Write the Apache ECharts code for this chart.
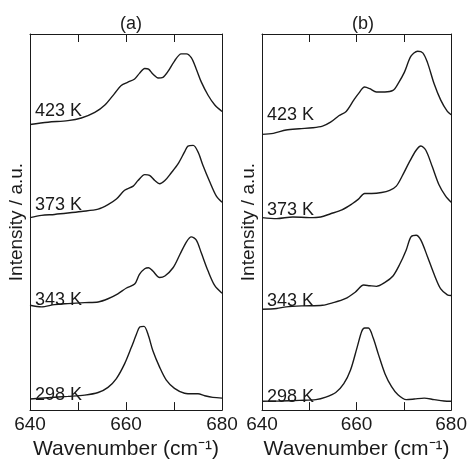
<!DOCTYPE html>
<html>
<head>
<meta charset="utf-8">
<script src="https://cdn.jsdelivr.net/npm/echarts@6/dist/echarts.min.js"></script>
<style>
  html, body { margin: 0; padding: 0; background: #fff; }
  #chart { width: 470px; height: 465px; }
</style>
</head>
<body>
<div id="chart"></div>
<script>
// spectra: [wavenumber, intensity (a.u., stacked offsets)]
const a298 = [[640, 11.3], [643.75, 12.7], [647.9, 14], [651.4, 15.3], [654.2, 18], [656.25, 23.3], [658, 32.3], [659.7, 47.3], [661.1, 64], [662.15, 77.3], [662.85, 85], [663.75, 85.7], [664.6, 77.3], [665.6, 60.7], [667, 44], [668.4, 30.7], [670.1, 22.3], [672.2, 17.3], [674, 16.7], [675, 16.7], [676.4, 14.7], [678.1, 13], [680, 12.3]];
const a343 = [[640, 107.3], [642.4, 105.7], [645.1, 108], [647.9, 109], [651.4, 110], [654.2, 110.7], [656.25, 114], [658.3, 119], [660.1, 125], [661.8, 129], [662.8, 139], [663.9, 144.7], [664.7, 145.7], [665.6, 142.3], [667, 135.7], [668.1, 137.3], [669.8, 145.7], [671.2, 159], [672.6, 172.3], [673.6, 177.3], [674.65, 174], [675.7, 160.7], [677.1, 142.3], [678.5, 127.3], [680, 119.7]];
const a373 = [[640, 197], [642.4, 199.3], [645.1, 200.3], [647.9, 201.7], [650.7, 203.3], [654.2, 205.7], [656.25, 210.3], [658, 216], [659.7, 225], [661.5, 229.3], [662.5, 235], [663.9, 241], [664.9, 240.3], [666, 235], [667, 231.7], [668.1, 235], [669.4, 242.7], [670.8, 251.7], [672.2, 264.3], [672.9, 270.3], [674, 271], [675, 264.3], [676, 251], [677.4, 234.3], [678.8, 219.3], [680, 212.7]];
const a423 = [[640, 292.3], [643.75, 294.7], [647.9, 296.3], [650.7, 299], [653.5, 304.7], [655.6, 312.3], [657.6, 324], [659, 332.3], [660.4, 335.7], [661.8, 339], [662.8, 344.7], [663.9, 349.7], [664.7, 349], [665.6, 344], [666.7, 340], [667.7, 340.7], [668.75, 346.7], [670.1, 357.3], [671.5, 364.7], [672.6, 364.7], [673.6, 360.7], [674.65, 349], [675.7, 335.7], [677.1, 322.3], [678.5, 312.3], [680, 305.7]];

const b298 = [[640, 9], [643.75, 9.3], [647.9, 10], [651.4, 10.7], [653.5, 13.3], [655.6, 18], [657.3, 27], [658.7, 40.7], [660.1, 64], [661.1, 80.7], [661.7, 84], [662.5, 84], [663.5, 74], [664.6, 57.3], [666, 37.3], [667.4, 24], [668.75, 15.7], [670.5, 10.7], [672.2, 11.3], [674.3, 12.3], [676.4, 10.7], [678.5, 9.3], [680, 9]];
const b343 = [[640, 103.3], [643.1, 104], [645.1, 105.7], [648.6, 106.7], [652.8, 107.3], [654.9, 109.7], [657.6, 114], [659.7, 120.7], [661.5, 128], [662.8, 127.3], [664.2, 126.7], [666, 130.7], [667.7, 137.3], [669.1, 149], [670.5, 164], [671.5, 177.3], [672.6, 179], [673.6, 174], [675, 157], [676.4, 139], [677.8, 124], [679.2, 118], [680, 117.3]];
const b373 = [[640, 197], [643.1, 196], [646.5, 197.7], [650, 197], [652.4, 197.7], [654.5, 201], [656.9, 205], [659, 211], [660.4, 216], [661.7, 221.7], [663.2, 221.7], [665.3, 222.7], [667, 225], [668.4, 229.3], [669.8, 241], [671.2, 254.3], [672.6, 266], [673.6, 270.3], [674.65, 266], [676, 249.3], [677.4, 231], [678.8, 219.3], [680, 212.7]];
const b423 = [[640, 282.3], [642.4, 283.3], [645.1, 286.7], [647.9, 288], [650.7, 289], [652.8, 290.7], [654.5, 294.7], [656.25, 301.3], [657.8, 305.7], [659.4, 317.3], [660.4, 324], [661.7, 330.7], [662.8, 329], [664.2, 325.7], [666, 325.7], [667.7, 327.3], [668.75, 334], [670.1, 345.7], [671.5, 362.3], [672.9, 367.3], [674, 365.7], [675, 355.7], [676.4, 334], [677.8, 317.3], [679.2, 305.7], [680, 302.3]];

const temperatures = ['298 K', '343 K', '373 K', '423 K'];
const xTickLabels = [640, 660, 680];
const panelTitles = ['(a)', '(b)'];

const FONT = 'Liberation Sans, Arial, sans-serif';
const INK = '#1a1a1a';

function xAxisPair(gridIndex) {
  const base = {
    gridIndex: gridIndex,
    type: 'value',
    min: 640,
    max: 680,
    interval: 10,
    splitLine: { show: false },
    axisLine: { onZero: false, lineStyle: { color: INK, width: 1 } },
    axisTick: { inside: true, length: 8, lineStyle: { color: INK } }
  };
  return [
    Object.assign({}, base, {
      position: 'bottom',
      name: 'Wavenumber (cm\u207B\u00B9)',
      nameLocation: 'middle',
      nameGap: 18,
      nameTextStyle: { fontFamily: FONT, fontSize: 21, color: INK, verticalAlign: 'top' },
      axisLabel: {
        margin: 5,
        fontFamily: FONT,
        fontSize: 19,
        color: INK,
        formatter: v => (xTickLabels.indexOf(v) >= 0 ? String(v) : '')
      }
    }),
    Object.assign({}, base, { position: 'top', axisLabel: { show: false } })
  ];
}

function yAxisPair(gridIndex) {
  const base = {
    gridIndex: gridIndex,
    type: 'value',
    min: 0,
    max: 385,
    splitLine: { show: false },
    axisTick: { show: false },
    axisLabel: { show: false },
    axisLine: { show: true, onZero: false, lineStyle: { color: INK, width: 1 } }
  };
  return [
    Object.assign({}, base, {
      position: 'left',
      name: 'Intensity / a.u.',
      nameLocation: 'middle',
      nameGap: 4,
      nameTextStyle: { fontFamily: FONT, fontSize: 19, color: INK }
    }),
    Object.assign({}, base, { position: 'right' })
  ];
}

function spectrum(data, axisIndex) {
  return {
    type: 'line',
    data: data,
    xAxisIndex: axisIndex,
    yAxisIndex: axisIndex,
    showSymbol: false,
    smooth: 0.3,
    lineStyle: { color: INK, width: 1.4 },
    silent: true
  };
}

// temperature labels sit just above each trace at the left edge
const labelTops = [[396, 301, 206, 112], [398, 302, 211, 116]];
const labelLefts = [35, 267];
const labels = [];
labelLefts.forEach((left, p) => {
  temperatures.forEach((t, i) => {
    labels.push({
      type: 'text',
      left: left,
      top: labelTops[p][i] - 10,
      style: { text: t, fontFamily: FONT, fontSize: 18, fill: INK }
    });
  });
});

const chart = echarts.init(document.getElementById('chart'));
chart.setOption({
  animation: false,
  backgroundColor: '#fff',
  title: [
    { text: panelTitles[0], left: 126, top: 10, textAlign: 'center',
      textStyle: { fontFamily: FONT, fontSize: 18, fontWeight: 'normal', color: INK } },
    { text: panelTitles[1], left: 358, top: 10, textAlign: 'center',
      textStyle: { fontFamily: FONT, fontSize: 18, fontWeight: 'normal', color: INK } }
  ],
  grid: [
    { left: 30, top: 34, width: 192, height: 385 },
    { left: 262, top: 34, width: 192, height: 385 }
  ],
  xAxis: xAxisPair(0).concat(xAxisPair(1)),
  yAxis: yAxisPair(0).concat(yAxisPair(1)),
  series: [
    spectrum(a298, 0), spectrum(a343, 0), spectrum(a373, 0), spectrum(a423, 0),
    spectrum(b298, 2), spectrum(b343, 2), spectrum(b373, 2), spectrum(b423, 2)
  ],
  graphic: labels
});
</script>
</body>
</html>
